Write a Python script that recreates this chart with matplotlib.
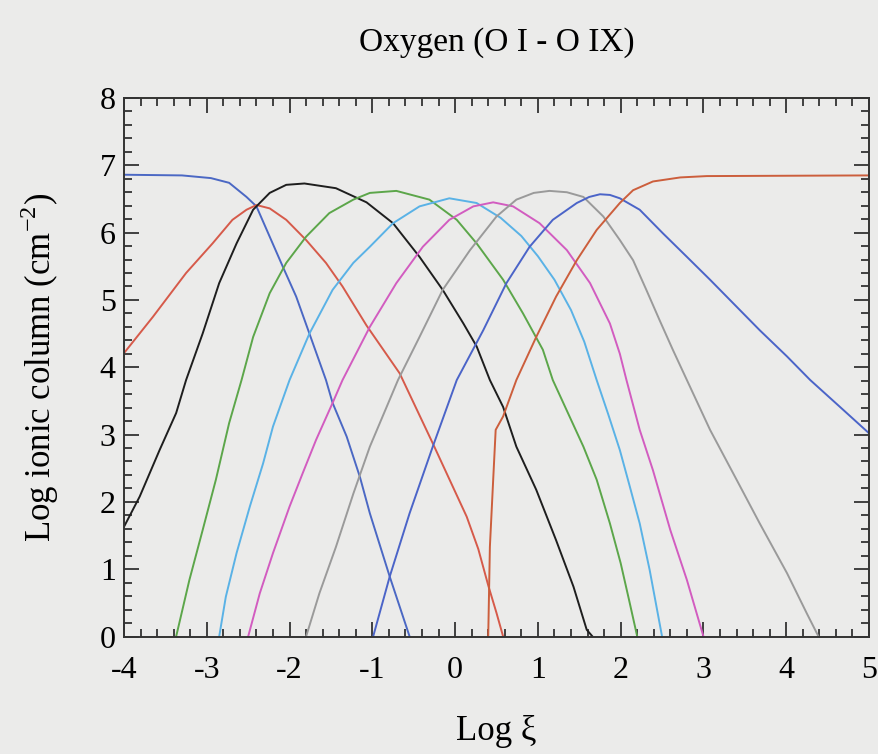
import matplotlib
matplotlib.use("Agg")
import matplotlib.pyplot as plt
from matplotlib.ticker import MultipleLocator

plt.rcParams['font.family'] = ['Liberation Serif', 'DejaVu Serif']
plt.rcParams['axes.unicode_minus'] = False

# O I
o1_x = [-4.0, -3.3, -2.95, -2.73, -2.52, -2.40, -2.24, -2.08, -1.92, -1.76, -1.56, -1.48, -1.31, -1.15, -1.03, -0.79, -0.55]
o1_y = [6.86, 6.85, 6.81, 6.74, 6.53, 6.39, 5.94, 5.49, 5.05, 4.50, 3.81, 3.47, 2.97, 2.37, 1.83, 0.89, 0.0]
# O II
o2_x = [-4.0, -3.65, -3.25, -2.93, -2.69, -2.52, -2.40, -2.24, -2.04, -1.80, -1.56, -1.36, -1.07, -0.67, -0.27, 0.14, 0.28, 0.40, 0.50, 0.58]
o2_y = [4.21, 4.75, 5.40, 5.84, 6.19, 6.34, 6.41, 6.36, 6.19, 5.89, 5.55, 5.20, 4.62, 3.91, 2.87, 1.78, 1.30, 0.76, 0.35, 0.0]
# O III
o3_x = [-4.0, -3.81, -3.57, -3.37, -3.25, -3.05, -2.85, -2.64, -2.44, -2.24, -2.04, -1.82, -1.44, -1.07, -0.75, -0.43, -0.15, 0.10, 0.26, 0.42, 0.58, 0.74, 0.98, 1.22, 1.43, 1.59, 1.66]
o3_y = [1.63, 2.08, 2.77, 3.32, 3.81, 4.50, 5.25, 5.84, 6.34, 6.59, 6.71, 6.73, 6.66, 6.45, 6.14, 5.64, 5.15, 4.65, 4.31, 3.81, 3.41, 2.82, 2.18, 1.43, 0.74, 0.10, 0.0]
# O IV
o4_x = [-3.37, -3.21, -3.05, -2.89, -2.73, -2.58, -2.44, -2.24, -2.04, -1.80, -1.52, -1.23, -1.03, -0.71, -0.31, 0.02, 0.26, 0.58, 0.82, 1.06, 1.18, 1.55, 1.71, 1.87, 2.00, 2.10, 2.20]
o4_y = [0.0, 0.84, 1.58, 2.33, 3.17, 3.81, 4.45, 5.10, 5.55, 5.94, 6.29, 6.49, 6.59, 6.62, 6.49, 6.19, 5.84, 5.30, 4.80, 4.26, 3.81, 2.82, 2.33, 1.68, 1.09, 0.55, 0.0]
# O V
o5_x = [-2.85, -2.77, -2.64, -2.48, -2.32, -2.20, -2.00, -1.76, -1.48, -1.23, -1.03, -0.75, -0.43, -0.07, 0.26, 0.55, 0.80, 1.00, 1.20, 1.40, 1.56, 1.71, 1.85, 1.99, 2.11, 2.23, 2.35, 2.50]
o5_y = [0.0, 0.59, 1.24, 1.93, 2.57, 3.12, 3.81, 4.50, 5.15, 5.55, 5.79, 6.14, 6.39, 6.51, 6.44, 6.22, 5.95, 5.65, 5.30, 4.85, 4.38, 3.81, 3.30, 2.77, 2.23, 1.68, 0.99, 0.0]
# O VI
o6_x = [-2.50, -2.36, -2.20, -2.00, -1.84, -1.68, -1.48, -1.36, -1.03, -0.71, -0.39, -0.07, 0.22, 0.46, 0.70, 1.02, 1.35, 1.63, 1.87, 1.99, 2.07, 2.23, 2.39, 2.60, 2.80, 3.00]
o6_y = [0.0, 0.64, 1.24, 1.93, 2.43, 2.92, 3.47, 3.81, 4.60, 5.25, 5.79, 6.19, 6.39, 6.45, 6.39, 6.14, 5.74, 5.25, 4.65, 4.20, 3.81, 3.07, 2.47, 1.58, 0.84, 0.0]
# O VII
o7_x = [-1.80, -1.64, -1.44, -1.23, -1.03, -0.69, -0.43, -0.15, 0.18, 0.50, 0.74, 0.95, 1.14, 1.35, 1.55, 1.79, 1.99, 2.15, 2.31, 2.47, 2.63, 2.80, 3.08, 3.40, 3.68, 4.01, 4.25, 4.39]
o7_y = [0.0, 0.64, 1.33, 2.12, 2.82, 3.81, 4.45, 5.15, 5.74, 6.24, 6.49, 6.59, 6.62, 6.60, 6.53, 6.24, 5.89, 5.59, 5.15, 4.70, 4.26, 3.81, 3.07, 2.33, 1.68, 0.94, 0.34, 0.0]
# O VIII
o8_x = [-0.99, -0.79, -0.55, -0.27, 0.02, 0.34, 0.62, 0.90, 1.18, 1.47, 1.62, 1.75, 1.87, 1.99, 2.23, 2.51, 2.80, 3.08, 3.36, 3.68, 4.01, 4.29, 4.65, 5.00]
o8_y = [0.0, 0.89, 1.83, 2.82, 3.81, 4.55, 5.25, 5.79, 6.19, 6.44, 6.53, 6.57, 6.56, 6.51, 6.34, 5.99, 5.64, 5.30, 4.95, 4.55, 4.16, 3.81, 3.41, 3.02]
# O IX
o9_x = [0.40, 0.42, 0.46, 0.49, 0.58, 0.74, 0.98, 1.22, 1.47, 1.71, 1.99, 2.15, 2.39, 2.72, 3.04, 5.00]
o9_y = [0.0, 1.33, 2.33, 3.07, 3.27, 3.81, 4.45, 5.05, 5.59, 6.04, 6.44, 6.63, 6.76, 6.82, 6.84, 6.85]

series = [
    (o1_x, o1_y, '#4b68c4'),
    (o2_x, o2_y, '#d65a4a'),
    (o3_x, o3_y, '#1e1e1e'),
    (o4_x, o4_y, '#5ca64a'),
    (o5_x, o5_y, '#5ab2e6'),
    (o6_x, o6_y, '#d25cc0'),
    (o7_x, o7_y, '#9a9a9a'),
    (o8_x, o8_y, '#4b64c8'),
    (o9_x, o9_y, '#cc5e3c'),
]

bg = '#ebebea'
fig = plt.figure(figsize=(8.79, 7.54), dpi=100, facecolor=bg)
ax = fig.add_axes([124/879, 1 - 636.5/754, (869-124)/879, (636.5-98)/754])
ax.set_facecolor(bg)

for xs, ys, c in series:
    ax.plot(xs, ys, color=c, lw=1.4)

ax.set_xlim(-4, 5)
ax.set_ylim(0, 8)
ax.xaxis.set_major_locator(MultipleLocator(1))
ax.xaxis.set_minor_locator(MultipleLocator(0.2))
ax.yaxis.set_major_locator(MultipleLocator(1))
ax.yaxis.set_minor_locator(MultipleLocator(0.2))
ax.tick_params(which='both', direction='in', top=True, right=True, color='#333333', width=1.3)
ax.tick_params(which='major', length=11)
ax.tick_params(which='minor', length=6)
ax.tick_params(axis='x', which='major', labelsize=23, pad=14)
ax.tick_params(axis='y', which='major', labelsize=23, pad=6)
for s in ax.spines.values():
    s.set_color('#333333')
    s.set_linewidth(1.4)

ax.set_title('Oxygen (O I - O IX)', fontsize=24, pad=34)
ax.set_xlabel('Log ξ', fontsize=25, labelpad=22)
ax.set_ylabel('Log ionic column (cm$^{\\mathregular{-2}}$)', fontsize=25, labelpad=28)

fig.savefig('out.png', dpi=100, facecolor=bg)
